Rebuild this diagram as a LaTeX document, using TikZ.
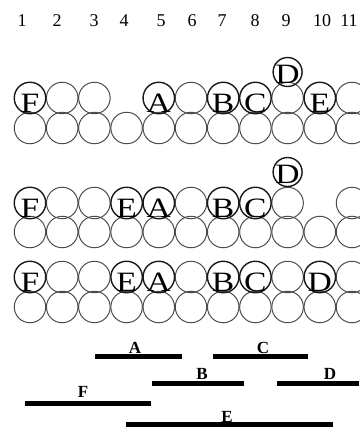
\documentclass[tikz,border=0pt]{standalone}
\usepackage{graphicx}
\usepackage{fontspec}
\setmainfont{Liberation Serif}
\newcommand\wideLt[1]{\scalebox{1.2}[1]{#1}}
\begin{document}
\begin{tikzpicture}[x=1pt,y=-1pt,
  circ/.style={circle,draw=black!70,line width=1pt,minimum size=31.5pt,inner sep=0pt},
  lcirc/.style={circ,draw=black!90,line width=1.4pt},
  letter/.style={inner sep=0pt,anchor=base,font=\fontsize{28}{28}\selectfont},
  num/.style={inner sep=0pt,anchor=base,font=\fontsize{18}{18}\selectfont},
  bar/.style={line width=5pt},
  barlabel/.style={inner sep=0pt,anchor=base,font=\bfseries\fontsize{17}{17}\selectfont}]
\useasboundingbox (0,0) rectangle (359,428);
% column numbers
\foreach \n/\x in {1/22,2/57,3/94,4/124,5/161,6/192,7/222,8/255,9/286,10/322,11/349}
  \node[num] (num\n) at (\x,27) {\n};
% bottom rows (all eleven positions)
\foreach \r/\y in {1/128,2/232,3/307}
  \foreach \i in {1,...,11}
    \node[circ] (r\r b\i) at ({30+32.2*(\i-1)},\y) {};
% top rows, plain circles
\foreach \i in {2,3,6,9,11}
  \node[circ] (r1t\i) at ({30+32.2*(\i-1)},98) {};
\foreach \i in {2,3,6,9,11}
  \node[circ] (r2t\i) at ({30+32.2*(\i-1)},203) {};
\foreach \i in {2,3,6,9,11}
  \node[circ] (r3t\i) at ({30+32.2*(\i-1)},277) {};
% lettered circles
\foreach \i/\L in {1/F,5/A,7/B,8/C,10/E}{
  \node[lcirc] (r1t\i) at ({30+32.2*(\i-1)},98) {};
  \node[letter] (r1L\i) at ({30+32.2*(\i-1)},112) {\wideLt{\L}};}
\foreach \i/\L in {1/F,4/E,5/A,7/B,8/C}{
  \node[lcirc] (r2t\i) at ({30+32.2*(\i-1)},203) {};
  \node[letter] (r2L\i) at ({30+32.2*(\i-1)},217) {\wideLt{\L}};}
\foreach \i/\L in {1/F,4/E,5/A,7/B,8/C,10/D}{
  \node[lcirc] (r3t\i) at ({30+32.2*(\i-1)},277) {};
  \node[letter] (r3L\i) at ({30+32.2*(\i-1)},291) {\wideLt{\L}};}
% D above position 9
\node[lcirc,minimum size=29pt] (r1D) at (287.6,72) {};
\node[letter] (r1LD) at (287.6,83) {\wideLt{D}};
\node[lcirc,minimum size=29pt] (r2D) at (287.6,172) {};
\node[letter] (r2LD) at (287.6,183) {\wideLt{D}};
% bars
\coordinate (aL) at (95,356);  \coordinate (aR) at (182,356);
\coordinate (cL) at (213,356); \coordinate (cR) at (308,356);
\coordinate (bL) at (152,383); \coordinate (bR) at (244,383);
\coordinate (dL) at (277,383); \coordinate (dR) at (359,383);
\coordinate (fL) at (25,403);  \coordinate (fR) at (151,403);
\coordinate (eL) at (126,424); \coordinate (eR) at (333,424);
\draw[bar] (aL) -- (aR);
\draw[bar] (cL) -- (cR);
\draw[bar] (bL) -- (bR);
\draw[bar] (dL) -- (dR);
\draw[bar] (fL) -- (fR);
\draw[bar] (eL) -- (eR);
\node[barlabel] (labA) at (135,353) {A};
\node[barlabel] (labC) at (263,353) {C};
\node[barlabel] (labB) at (202,379) {B};
\node[barlabel] (labD) at (330,379) {D};
\node[barlabel] (labF) at (83,397) {F};
\node[barlabel] (labE) at (227,422) {E};
\end{tikzpicture}
\end{document}
